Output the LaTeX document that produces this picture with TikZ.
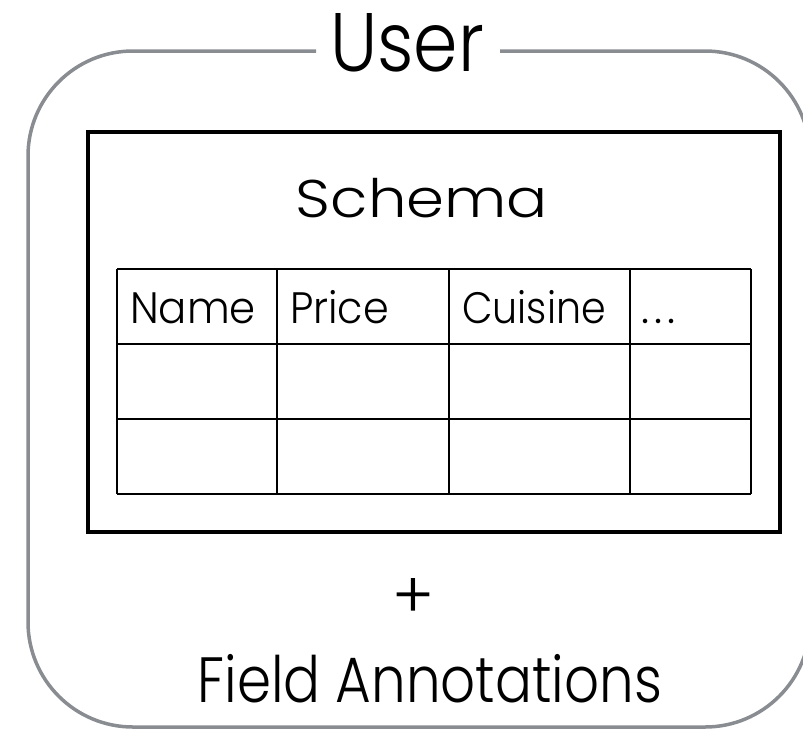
\documentclass[tikz,border=0pt]{standalone}
\usepackage{fontspec}
\setmainfont{Poppins}[UprightFont=* Light]
\definecolor{framegray}{HTML}{898C90}
\begin{document}
\begin{tikzpicture}[x=1pt,y=-1pt,
  frame/.style={draw=framegray,line width=3.5pt,rounded corners=105pt},
  schemabox/.style={draw=black,line width=4pt},
  grid/.style={draw=black,line width=2pt},
  title/.style={font=\fontsize{83}{90}\selectfont,inner sep=0pt,anchor=base},
  heading/.style={font=\fontsize{53}{60}\selectfont,inner sep=0pt,anchor=base},
  cell/.style={font=\fontsize{44}{50}\selectfont,inner sep=0pt,anchor=base west},
  note/.style={font=\fontsize{64}{70}\selectfont,inner sep=0pt,anchor=base}]
\useasboundingbox (0,0) rectangle (803,729);
% outer frame, open at the top for its title
\node[title] (user) at (407,71) {\scalebox{0.86}[1]{User}};
\draw[frame] (316,51) -- (28,51) -- (28,727) -- (810,727) -- (810,51) -- (500,51);
% schema box
\draw[schemabox] (88,132) rectangle (780,532);
\node[heading] (schema) at (422,217) {\scalebox{1.15}[1]{Schema}};
% table grid
\foreach \y in {269,344,419,494} \draw[grid] (117,\y) -- (751,\y);
\foreach \x in {117,277,449,630,751} \draw[grid] (\x,269) -- (\x,494);
\node[cell] (name) at (130,323) {\scalebox{0.95}[1]{Name}};
\node[cell] (price) at (290,323) {\scalebox{0.94}[1]{Price}};
\node[cell] (cuisine) at (462,323) {\scalebox{0.9}[1]{Cuisine}};
\node[cell] (more) at (641,323) {.\kern5pt.\kern5pt.};
% annotations
\node[note] (plus) at (413,618) {+};
\node[note] (fields) at (430,702) {\scalebox{0.855}[1]{Field Annotations}};
\end{tikzpicture}
\end{document}
